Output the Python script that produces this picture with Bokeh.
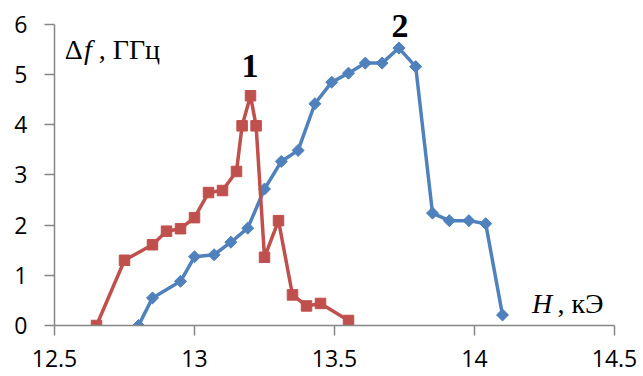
import math
from bokeh.plotting import figure
from bokeh.models import Range1d, FixedTicker, Label
from bokeh.embed import file_html
from bokeh.resources import INLINE

# Series 1 (red squares)
h1 = [12.65, 12.75, 12.85, 12.90, 12.95, 13.00, 13.05, 13.10, 13.15, 13.17, 13.20, 13.22, 13.25, 13.30, 13.35, 13.40, 13.45, 13.55]
df1 = [0.0, 1.30, 1.61, 1.88, 1.93, 2.15, 2.65, 2.69, 3.07, 3.98, 4.58, 3.98, 1.36, 2.09, 0.61, 0.39, 0.44, 0.10]

# Series 2 (blue diamonds)
h2 = [12.80, 12.85, 12.95, 13.00, 13.07, 13.13, 13.19, 13.25, 13.31, 13.37, 13.43, 13.49, 13.55, 13.61, 13.67, 13.73, 13.79, 13.85, 13.91, 13.98, 14.04, 14.10]
df2 = [0.0, 0.55, 0.88, 1.37, 1.41, 1.66, 1.94, 2.72, 3.27, 3.49, 4.42, 4.85, 5.03, 5.23, 5.23, 5.53, 5.16, 2.24, 2.09, 2.09, 2.03, 0.21]

x_ticks = [12.5, 13.0, 13.5, 14.0, 14.5]
x_tick_labels = ["12.5", "13", "13.5", "14", "14.5"]
y_ticks = [0, 1, 2, 3, 4, 5, 6]
y_tick_labels = ["0", "1", "2", "3", "4", "5", "6"]

RED = "#C0504D"
BLUE = "#4F81BD"
AXIS = "#868686"

p = figure(width=643, height=376, output_backend="svg", toolbar_location=None,
           x_range=Range1d(12.5, 14.5), y_range=Range1d(0, 6.478),
           min_border_left=54, min_border_right=29, min_border_top=0, min_border_bottom=51)
p.outline_line_color = None
p.xgrid.visible = False
p.ygrid.visible = False
p.background_fill_color = "white"
p.border_fill_color = "white"

for ax in (p.xaxis[0], p.yaxis[0]):
    ax.axis_line_color = AXIS
    ax.axis_line_width = 1.5
    ax.major_tick_line_color = AXIS
    ax.major_tick_line_width = 1.5
    ax.major_tick_in = 0
    ax.major_tick_out = 10
    ax.minor_tick_line_color = None
    ax.major_label_text_font = "Open Sans"
    ax.major_label_text_font_size = "23px"
    ax.major_label_text_color = "black"

p.xaxis.ticker = FixedTicker(ticks=x_ticks)
p.xaxis.major_label_overrides = {t: s for t, s in zip(x_ticks, x_tick_labels)}
p.yaxis.ticker = FixedTicker(ticks=y_ticks)
p.yaxis.major_label_overrides = {t: s for t, s in zip(y_ticks, y_tick_labels)}
p.yaxis.bounds = (0, 6)
p.xaxis.major_label_standoff = 14
p.yaxis.major_label_standoff = 17

# blue series (drawn first), red on top
p.line(h2, df2, line_color=BLUE, line_width=3.5)
p.scatter(h2, df2, marker="square", angle=math.pi / 4, size=8.5, fill_color=BLUE, line_color=BLUE)
p.line(h1, df1, line_color=RED, line_width=3.5)
p.scatter(h1, df1, marker="square", size=10.5, fill_color=RED, line_color=RED)

serif = "Liberation Serif"
def lab(x, y, text, size, style="normal", align="left"):
    p.add_layout(Label(x=x, y=y, text=text, text_font=serif, text_font_size=size,
                       text_font_style=style, text_align=align, text_baseline="alphabetic",
                       text_color="black"))

lab(12.537, 5.51, "Δ", "28px")
lab(12.605, 5.51, "f", "28px", "italic")
lab(12.658, 5.51, ", ГГц", "28px")
lab(14.205, 0.44, "H", "28px", "italic")
lab(14.296, 0.44, ", кЭ", "28px")
lab(13.198, 5.17, "1", "34px", "bold", "center")
lab(13.734, 5.97, "2", "34px", "bold", "center")

open("out.html", "w").write(file_html(p, INLINE))
